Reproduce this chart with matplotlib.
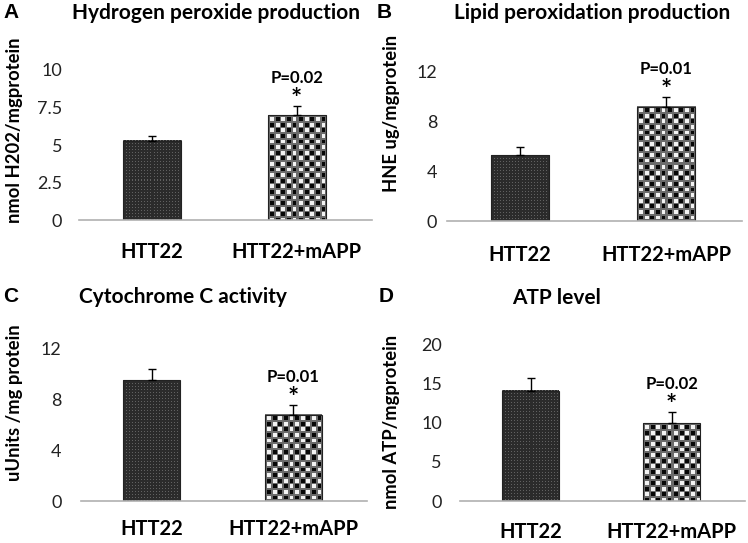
import numpy as np
import matplotlib.pyplot as plt

# data
groups = ["HTT22", "HTT22+mAPP"]
letters = ["A", "B", "C", "D"]
titles = ["Hydrogen peroxide production", "Lipid peroxidation production",
          "Cytochrome C activity", "ATP level"]
ylabels = ["nmol H202/mgprotein", "HNE ug/mgprotein",
           "uUnits /mg protein", "nmol ATP/mgprotein"]
ctrl = [5.27, 5.28, 9.5, 14.1]
mapp = [6.97, 9.15, 6.77, 9.94]
ctrl_err = [0.35, 0.64, 0.92, 1.58]
mapp_err = [0.62, 0.80, 0.76, 1.41]
pvals = ["P=0.02", "P=0.01", "P=0.01", "P=0.02"]
yticks = [[0, 2.5, 5, 7.5, 10], [0, 4, 8, 12], [0, 4, 8, 12], [0, 5, 10, 15, 20]]
ytlabels = [["0", "2.5", "5", "7.5", "10"], ["0", "4", "8", "12"],
            ["0", "4", "8", "12"], ["0", "5", "10", "15", "20"]]
ytop = [12, 14, 14, 22]

# layout in pixels (x0, x1, y_bottom, y_top of plot area)
W, H = 748, 543
boxes = [(79, 372, 220, 40), (447, 742, 221, 46), (81, 367, 501, 323), (460, 745, 501, 329)]
ytick_pad = [12, 7, 14, 13]
xtick_pad = [16, 17, 13, 15]
title_pos = [(72, 13), (454, 13), (79, 297), (512, 298)]
letter_pos = [(3, 13), (377, 13), (3, 297), (379, 297)]
ylabel_pos = [(15, 130), (392, 113), (15, 403), (392, 422)]

bold = dict(family=["Lato", "DejaVu Sans"], fontweight="bold")


def fill_texture(ax, rect, kind):
    x0, w, h = rect.get_x(), rect.get_width(), rect.get_height()
    (px0, py0), (px1, py1) = ax.transData.transform([(x0, 0), (x0 + w, h)])
    wpx, hpx = max(int(round(px1 - px0)), 1), max(int(round(py1 - py0)), 1)
    i, j = np.mgrid[0:hpx, 0:wpx]
    if kind == "check":
        p = 5.6
        ci, cj = np.floor(i / p), np.floor(j / p)
        line = ((i - ci * p) < 1.8) | ((j - cj * p) < 1.8)
        img = np.where((cj + ci) % 2 == 0, 0.95, 0.03)
        img = np.where(line, 0.42, img)
    else:
        p = 3
        dots = (i % p == 0) & (j % p == 0)
        img = np.where(dots, 0.38, 0.17)
    ax.imshow(img, cmap="gray", vmin=0, vmax=1, extent=(x0, x0 + w, 0, h),
              aspect="auto", interpolation="nearest", zorder=1)


fig = plt.figure(figsize=(W / 100, H / 100), dpi=100)

for k in range(4):
    x0, x1, yb, yt = boxes[k]
    ax = fig.add_axes([x0 / W, 1 - yb / H, (x1 - x0) / W, (yb - yt) / H])
    ax.set_xlim(-0.5, 1.52)
    ax.set_ylim(0, ytop[k])
    vals = [ctrl[k], mapp[k]]
    errs = [ctrl_err[k], mapp_err[k]]
    bars = ax.bar([0, 1], vals, width=0.4, facecolor="none",
                  edgecolor="#222222", linewidth=0.8, zorder=3)
    fill_texture(ax, bars[0], "dots")
    fill_texture(ax, bars[1], "check")
    ax.errorbar([0, 1], vals, yerr=[[0, 0], errs], fmt="none", ecolor="black",
                elinewidth=1, capsize=3, capthick=1, zorder=4)
    ax.set_xlim(-0.5, 1.52)
    ax.set_ylim(0, ytop[k])

    for s in ["top", "right", "left"]:
        ax.spines[s].set_visible(False)
    ax.spines["bottom"].set_color("#b0b0b0")
    ax.spines["bottom"].set_linewidth(1.2)
    ax.spines["bottom"].set_zorder(5)

    ax.set_yticks(yticks[k])
    ax.set_yticklabels(ytlabels[k], family=["Lato", "DejaVu Sans"], fontsize=13)
    ax.set_xticks([0, 1])
    ax.set_xticklabels(groups, fontsize=14.5, **bold)
    ax.tick_params(axis="y", length=0, pad=ytick_pad[k], colors="#222222")
    ax.tick_params(axis="x", length=0, pad=xtick_pad[k])

    top = mapp[k] + mapp_err[k]
    ax.annotate("*", (1, top), xytext=(0, 5), textcoords="offset points",
                ha="center", va="center", fontsize=19, **bold)
    ax.annotate(pvals[k], (1, top), xytext=(0, 20), textcoords="offset points",
                ha="center", va="center", fontsize=12, **bold)

    tx, ty = title_pos[k]
    fig.text(tx / W, 1 - ty / H, titles[k], ha="left", va="center", fontsize=15, **bold)
    lx, ly = letter_pos[k]
    fig.text(lx / W, 1 - ly / H, letters[k], ha="left", va="center", fontsize=15,
             family=["Liberation Sans", "DejaVu Sans"], fontweight="bold")
    yx, yy = ylabel_pos[k]
    fig.text(yx / W, 1 - yy / H, ylabels[k], ha="center", va="center", rotation=90,
             fontsize=13.2, **bold)

fig.savefig("out.png", dpi=100)
